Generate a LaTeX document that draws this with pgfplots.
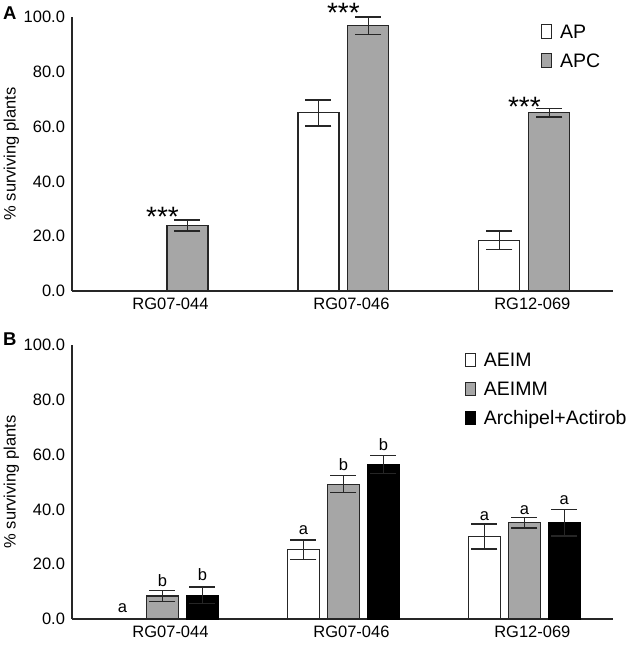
\documentclass[border=0pt]{standalone}
\usepackage{pgfplots}
\pgfplotsset{compat=1.18}
\usepackage{fontspec}
\setmainfont{Liberation Sans}
\definecolor{bargray}{HTML}{A6A6A6}
\definecolor{edge}{HTML}{262626}

\pgfplotsset{
  panel/.style={
    scale only axis, width=541pt, height=274pt,
    xmin=-0.5, xmax=2.49, ymin=0, ymax=100,
    axis x line=bottom, axis y line=left,
    axis line style={-, line width=1.5pt, draw=edge},
    xtick={0,1,2}, xticklabels={RG07-044,RG07-046,RG12-069},
    ytick={0,20,40,60,80,100},
    major tick length=0pt,
    tick style={draw=none},
    clip=false,
    yticklabel style={/pgf/number format/fixed, /pgf/number format/fixed zerofill,
      /pgf/number format/precision=1, /pgf/number format/assume math mode=true, xshift=-3.5pt},
    xticklabel style={xshift=8pt, yshift=-3.5pt},
    ylabel={\% surviving plants},
    ylabel style={at={(axis description cs:-0.112,0.5)}, anchor=center},
    legend image code/.code={\draw[#1, line width=1pt] (0pt,-7pt) rectangle (10pt,6.5pt);},
    legend cell align=left,
    legend style={draw=none, fill=none, inner sep=0pt,
      row sep=14.5pt, column sep=8pt, font=\fontsize{19.5}{23}\selectfont,
      nodes={text height=14pt, text depth=0pt, inner sep=0pt}},
  },
  errs/.style={error bars/.cd, y dir=both, y explicit, error mark=|,
      error bar style={line width=1.6pt, draw=edge},
      error mark options={line width=1.6pt, mark size=13pt, draw=edge}},
}

\begin{document}
\begin{tikzpicture}[font=\fontsize{16.5}{19.8}\selectfont]
\useasboundingbox (-72pt,-31pt) rectangle (566pt,619pt);

% ---------------- Panel A ----------------
\begin{axis}[panel, at={(0pt,328pt)}, anchor=south west,
  legend style={at={(axis description cs:0.841,0.975)}, anchor=north west, xshift=14pt}]
\addplot[ybar, bar width=41pt, bar shift=0pt, fill=white, draw=edge, line width=1.2pt, errs]
  coordinates {(0.862,65) +- (0,4.8) (1.862,18.5) +- (0,3.4)};
\addlegendentry{AP}
\addplot[ybar, bar width=41pt, bar shift=0pt, fill=bargray, draw=edge, line width=1.2pt, errs]
  coordinates {(0.138,24) +- (0,2) (1.138,96.8) +- (0,3.2) (2.138,65) +- (0,1.6)};
\addlegendentry{APC}
\node[anchor=north, inner sep=0pt, font=\fontsize{28}{32}\selectfont] at (axis cs:0,30.7) {***};
\node[anchor=north, inner sep=0pt, font=\fontsize{28}{32}\selectfont] at (axis cs:1,105.1) {***};
\node[anchor=north, inner sep=0pt, font=\fontsize{28}{32}\selectfont] at (axis cs:2,70.8) {***};
\end{axis}

% ---------------- Panel B ----------------
\begin{axis}[panel, at={(0pt,0pt)}, anchor=south west,
  legend style={at={(axis description cs:0.726,0.972)}, anchor=north west}]
\addplot[ybar, bar width=32pt, bar shift=0pt, fill=white, draw=edge, line width=1.2pt, errs]
  coordinates {(0.779,25.3) +- (0,3.6) (1.779,30.1) +- (0,4.5)};
\addlegendentry{AEIM}
\addplot[ybar, bar width=32pt, bar shift=0pt, fill=bargray, draw=edge, line width=1.2pt, errs]
  coordinates {(0,8.4) +- (0,2) (1,49.2) +- (0,3.1) (2,35.2) +- (0,1.9)};
\addlegendentry{AEIMM}
\addplot[ybar, bar width=32pt, bar shift=0pt, fill=black, draw=black, line width=1.2pt, errs]
  coordinates {(0.221,8.7) +- (0,3) (1.221,56.4) +- (0,3.3) (2.221,35.2) +- (0,4.8)};
\addlegendentry{Archipel+Actirob}
\node[anchor=base] at (axis cs:-0.221,2.2) {a};
\node[anchor=base] at (axis cs:0,11.8) {b};
\node[anchor=base] at (axis cs:0.221,13.9) {b};
\node[anchor=base] at (axis cs:0.779,30.8) {a};
\node[anchor=base] at (axis cs:1,54.3) {b};
\node[anchor=base] at (axis cs:1.221,61.6) {b};
\node[anchor=base] at (axis cs:1.779,35.9) {a};
\node[anchor=base] at (axis cs:2,38.3) {a};
\node[anchor=base] at (axis cs:2.221,41.8) {a};
\end{axis}

\node[anchor=base west, inner sep=0pt, font=\fontsize{18.5}{22}\selectfont\bfseries] at (-69pt,599pt) {A};
\node[anchor=base west, inner sep=0pt, font=\fontsize{18.5}{22}\selectfont\bfseries] at (-69pt,273pt) {B};
\end{tikzpicture}
\end{document}
